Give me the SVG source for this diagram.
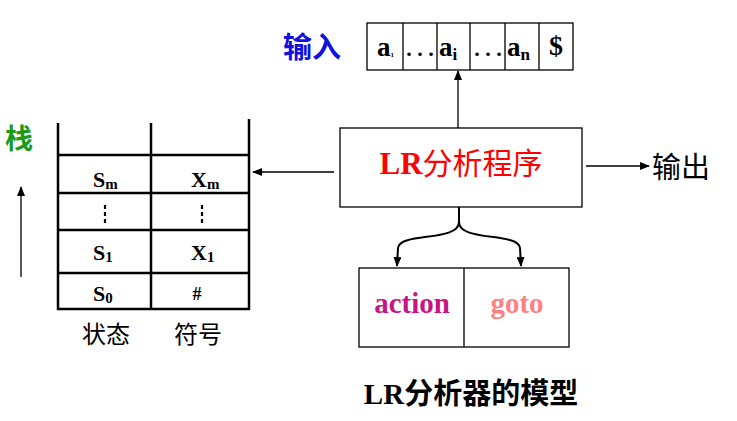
<svg xmlns="http://www.w3.org/2000/svg" width="737" height="421" viewBox="0 0 737 421">
<style>
.ln{stroke:#000;stroke-width:1.3;fill:none}
.tk{stroke:#000;stroke-width:2.5;fill:none}
.ser{font-family:"Liberation Serif",serif;font-weight:bold}
.cjk{font-family:"Noto Sans CJK SC",sans-serif}
</style>
<defs>
<marker id="ah" markerWidth="10" markerHeight="8" refX="9" refY="4" orient="auto" markerUnits="userSpaceOnUse">
<path d="M0,0 L10,4 L0,8 Z" fill="#000"/>
</marker>
</defs>
<rect width="737" height="421" fill="#fff"/>
<g id="input-label"><text x="283" y="58" class="cjk" font-size="29" font-weight="bold" fill="#1010e0">输入</text></g>
<g id="tape">
<rect x="367" y="23" width="206" height="47" fill="#fff" class="ln"/>
<line x1="403" y1="23" x2="403" y2="70" class="ln"/>
<line x1="437" y1="23" x2="437" y2="70" class="ln"/>
<line x1="470" y1="23" x2="470" y2="70" class="ln"/>
<line x1="505" y1="23" x2="505" y2="70" class="ln"/>
<line x1="539" y1="23" x2="539" y2="70" class="ln"/>
<text x="377" y="56" class="ser" font-size="27">a<tspan font-size="7" dy="1">1</tspan></text>
<text x="420" y="56" class="ser" font-size="22" text-anchor="middle">. . .</text>
<text x="439" y="56" class="ser" font-size="27">a<tspan font-size="17" dy="4">i</tspan></text>
<text x="488" y="56" class="ser" font-size="22" text-anchor="middle">. . .</text>
<text x="507" y="56" class="ser" font-size="27">a<tspan font-size="17" dy="4">n</tspan></text>
<text x="556" y="55" class="ser" font-size="28" text-anchor="middle">$</text>
</g>
<g id="stack-label"><text x="5" y="149" class="cjk" font-size="28" font-weight="bold" fill="#1a9a1a">栈</text></g>
<g id="stack">
<polyline points="58,123 58,309 249,309 249,119" class="tk"/>
<line x1="151" y1="123" x2="151" y2="309" class="tk"/>
<line x1="58" y1="155" x2="249" y2="155" class="tk"/>
<line x1="58" y1="193" x2="249" y2="193" class="tk"/>
<line x1="58" y1="230" x2="249" y2="230" class="tk"/>
<line x1="58" y1="273" x2="249" y2="273" class="tk"/>
<text x="93" y="187" class="ser" font-size="22">S<tspan font-size="15" dy="2">m</tspan></text>
<text x="191" y="187" class="ser" font-size="22">X<tspan font-size="15" dy="2">m</tspan></text>
<line x1="105" y1="205" x2="105" y2="225" stroke="#000" stroke-width="2.2" stroke-dasharray="4,3"/>
<line x1="202" y1="205" x2="202" y2="225" stroke="#000" stroke-width="2.2" stroke-dasharray="4,3"/>
<text x="93" y="260" class="ser" font-size="22">S<tspan font-size="15" dy="2">1</tspan></text>
<text x="191" y="260" class="ser" font-size="22">X<tspan font-size="15" dy="2">1</tspan></text>
<text x="93" y="301" class="ser" font-size="22">S<tspan font-size="15" dy="2">0</tspan></text>
<text x="197" y="300" class="ser" font-size="18" text-anchor="middle">#</text>
<text x="106" y="343" class="cjk" font-size="24" text-anchor="middle">状态</text>
<text x="198" y="343" class="cjk" font-size="24" text-anchor="middle">符号</text>
</g>
<g id="program">
<rect x="340" y="128" width="242" height="79" fill="#fff" class="ln"/>
<text x="461" y="174" font-size="31" fill="#ff0000" text-anchor="middle"><tspan class="ser">LR</tspan><tspan class="cjk" font-size="30">分析程序</tspan></text>
</g>
<g id="output-label"><text x="652" y="178" class="cjk" font-size="29">输出</text></g>
<g id="table">
<rect x="359" y="268" width="210" height="79" fill="#fff" class="ln"/>
<line x1="464" y1="268" x2="464" y2="347" class="ln"/>
<text x="412" y="313" class="ser" font-size="29" fill="#c71585" text-anchor="middle">action</text>
<text x="517" y="313" class="ser" font-size="29" fill="#ff8080" text-anchor="middle">goto</text>
</g>
<g id="caption"><text x="471" y="404" font-size="29" text-anchor="middle"><tspan class="ser">LR</tspan><tspan class="cjk" font-weight="bold">分析器的模型</tspan></text></g>
<g id="connectors">
<line x1="21" y1="277" x2="21" y2="187" class="ln" marker-end="url(#ah)"/>
<line x1="458" y1="128" x2="458" y2="71" class="ln" marker-end="url(#ah)"/>
<line x1="334" y1="172" x2="253" y2="172" class="ln" marker-end="url(#ah)"/>
<line x1="586" y1="166" x2="649" y2="166" class="ln" marker-end="url(#ah)"/>
<path d="M459,207 L459,222 C459,242 400,232 398,248 L397,266" stroke="#000" stroke-width="2" fill="none" marker-end="url(#ah)"/>
<path d="M459,207 L459,222 C459,242 518,232 520,248 L521,266" stroke="#000" stroke-width="2" fill="none" marker-end="url(#ah)"/>
</g>
</svg>
